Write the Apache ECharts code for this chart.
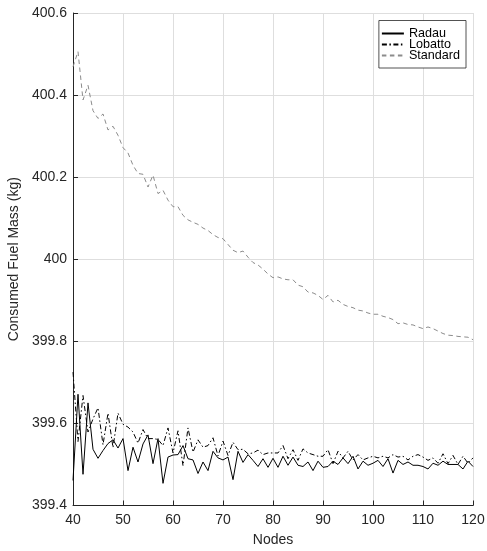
<!DOCTYPE html>
<html>
<head>
<meta charset="utf-8">
<script src="https://cdn.jsdelivr.net/npm/echarts@6/dist/echarts.min.js"></script>
<style>
  html, body { margin: 0; padding: 0; background: #fff; }
  #chart { width: 487px; height: 551px; }
</style>
</head>
<body>
<div id="chart"></div>
<script>
// nodes run 40..120, one value per node
const first_node = 40;

const radau = [
    399.461, 399.671, 399.476, 399.650, 399.537, 399.515, 399.534, 399.551, 399.560, 399.540,
    399.563, 399.485, 399.542, 399.506, 399.550, 399.572, 399.502, 399.563, 399.454, 399.518,
    399.523, 399.524, 399.546, 399.514, 399.511, 399.478, 399.506, 399.485, 399.532, 399.516,
    399.511, 399.518, 399.463, 399.532, 399.505, 399.524, 399.510, 399.495, 399.514, 399.493,
    399.515, 399.493, 399.520, 399.498, 399.518, 399.498, 399.495, 399.506, 399.485, 399.508,
    399.493, 399.495, 399.508, 399.500, 399.516, 399.502, 399.520, 399.489, 399.508, 399.498,
    399.503, 399.510, 399.495, 399.514, 399.479, 399.510, 399.500, 399.506, 399.498, 399.498,
    399.495, 399.489, 399.503, 399.498, 399.508, 399.500, 399.500, 399.500, 399.489, 399.508,
    399.495
];

const lobatto = [
    399.725, 399.556, 399.668, 399.579, 399.611, 399.638, 399.548, 399.625, 399.541, 399.625,
    399.598, 399.591, 399.579, 399.552, 399.585, 399.563, 399.563, 399.561, 399.546, 399.589,
    399.528, 399.582, 399.497, 399.589, 399.530, 399.560, 399.542, 399.546, 399.565, 399.521,
    399.557, 399.522, 399.554, 399.536, 399.537, 399.526, 399.528, 399.535, 399.524, 399.528,
    399.528, 399.528, 399.546, 399.514, 399.536, 399.510, 399.538, 399.528, 399.524, 399.520,
    399.520, 399.536, 399.502, 399.532, 399.516, 399.532, 399.511, 399.524, 399.511, 399.516,
    399.520, 399.516, 399.520, 399.516, 399.524, 399.518, 399.520, 399.511, 399.520, 399.524,
    399.518, 399.510, 399.516, 399.503, 399.526, 399.502, 399.522, 399.500, 399.520, 399.503,
    399.516
];

const standard = [
    400.469, 400.506, 400.388, 400.424, 400.362, 400.343, 400.354, 400.315, 400.324, 400.302,
    400.272, 400.259, 400.229, 400.209, 400.207, 400.176, 400.205, 400.160, 400.168, 400.144,
    400.128, 400.128, 400.107, 400.096, 400.090, 400.085, 400.076, 400.070, 400.060, 400.053,
    400.050, 400.036, 400.022, 400.016, 400.020, 400.005, 399.992, 399.986, 399.976, 399.964,
    399.955, 399.957, 399.952, 399.950, 399.950, 399.937, 399.933, 399.920, 399.918, 399.912,
    399.902, 399.912, 399.896, 399.900, 399.890, 399.885, 399.882, 399.876, 399.874, 399.869,
    399.866, 399.866, 399.861, 399.858, 399.853, 399.843, 399.845, 399.841, 399.840, 399.835,
    399.831, 399.835, 399.831, 399.825, 399.819, 399.815, 399.814, 399.812, 399.811, 399.810,
    399.804
];

const series_names = ["Radau", "Lobatto", "Standard"];

const font = "Liberation Sans, Arial, Helvetica, sans-serif";
const ink = "#262626";
const grid_color = "#dedede";

function pairs(vals) {
    return vals.map((v, i) => [first_node + i, v]);
}

function make_line(name, vals, color, dash) {
    return {
        name: name,
        type: "line",
        data: pairs(vals),
        symbol: "none",
        animation: false,
        lineStyle: { color: color, width: 1, type: dash },
        itemStyle: { color: color }
    };
}

let chart = echarts.init(document.getElementById("chart"), null, { renderer: "canvas" });

let opt = {
    backgroundColor: "#fff",
    textStyle: { fontFamily: font },
    grid: { left: 73, right: 14, top: 13, bottom: 45.5, outerBoundsMode: "none" },
    legend: {
        data: series_names,
        orient: "vertical",
        right: 21,
        top: 20.5,
        padding: [6.5, 6, 6, 2],
        itemWidth: 22,
        itemHeight: 11,
        itemGap: -2,
        backgroundColor: "#fff",
        borderColor: ink,
        borderWidth: 0.8,
        borderRadius: 0,
        selectedMode: false,
        // keep only the line sample, no marker
        itemStyle: { opacity: 0 },
        textStyle: { fontFamily: font, fontSize: 12.6, color: "#000" }
    },
    xAxis: {
        type: "value",
        min: 40,
        max: 120,
        interval: 10,
        name: "Nodes",
        nameLocation: "middle",
        nameGap: 28,
        nameTextStyle: { fontFamily: font, fontSize: 14, color: ink },
        axisLine: { show: true, lineStyle: { color: ink, width: 1 } },
        axisTick: { show: true, inside: true, length: 5, lineStyle: { color: ink } },
        axisLabel: { fontFamily: font, fontSize: 14, color: ink, margin: 8 },
        splitLine: { show: true, lineStyle: { color: grid_color, width: 1 } }
    },
    yAxis: {
        type: "value",
        min: 399.4,
        max: 400.6,
        interval: 0.2,
        name: "Consumed Fuel Mass (kg)",
        nameLocation: "middle",
        nameGap: 45,
        nameTextStyle: { fontFamily: font, fontSize: 14, color: ink },
        axisLine: { show: true, lineStyle: { color: ink, width: 1 } },
        axisTick: { show: true, inside: true, length: 5, lineStyle: { color: ink } },
        axisLabel: {
            fontFamily: font, fontSize: 14, color: ink, margin: 6,
            formatter: v => String(+v.toFixed(1))
        },
        splitLine: { show: true, lineStyle: { color: grid_color, width: 1 } }
    },
    series: [
        make_line(series_names[0], radau, "#000", "solid"),
        make_line(series_names[1], lobatto, "#000", [5, 2.5, 1.5, 2.5]),
        make_line(series_names[2], standard, "#8c8c8c", [4.5, 3.5])
    ]
};

chart.setOption(opt);
</script>
</body>
</html>
